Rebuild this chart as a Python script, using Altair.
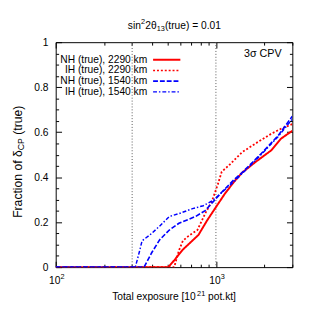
import altair as alt
import pandas as pd

FONT = "Liberation Sans"

# ---- data ----
series_names = ["NH (true), 2290 km", "IH (true), 2290 km", "NH (true), 1540 km", "IH (true), 1540 km"]
series_colors = ["#ff0000", "#ff0000", "#0000ff", "#0000ff"]
series_dash = [[1, 0], [2, 2], [5, 2], [4, 2, 1.5, 2]]
series_width = [2, 1.5, 2, 1.2]

exp_nh2290 = [100, 505, 549, 622, 778, 882, 986, 1134, 1303, 1457, 1771, 2215, 2546, 3000]
frac_nh2290 = [0, 0, 0.030, 0.078, 0.143, 0.208, 0.260, 0.325, 0.381, 0.420, 0.468, 0.519, 0.571, 0.606]

exp_ih2290 = [100, 549, 588, 622, 676, 767, 857, 945, 1028, 1087, 1216, 1457, 1771, 2215, 2546, 3000]
frac_ih2290 = [0, 0, 0.074, 0.117, 0.139, 0.165, 0.238, 0.294, 0.368, 0.424, 0.455, 0.511, 0.550, 0.593, 0.615, 0.636]

exp_nh1540 = [100, 356, 398, 445, 512, 588, 746, 857, 959, 1087, 1303, 1457, 1927, 2443, 3000]
frac_nh1540 = [0, 0, 0.065, 0.121, 0.165, 0.195, 0.225, 0.251, 0.290, 0.333, 0.390, 0.420, 0.506, 0.584, 0.671]

exp_ih1540 = [100, 314, 332, 346, 387, 445, 512, 588, 715, 834, 945, 1028, 1182, 1303, 1457, 1927, 2443, 3000]
frac_ih1540 = [0, 0, 0.065, 0.117, 0.143, 0.182, 0.225, 0.238, 0.260, 0.273, 0.294, 0.316, 0.355, 0.381, 0.416, 0.502, 0.580, 0.658]

ref_lines = [300, 1000]

x_major = [100, 1000]
x_major_base = ["10", "10"]
x_major_exp = ["2", "3"]
x_minor = [200, 300, 400, 500, 600, 700, 800, 900, 2000, 3000]
y_major = [0, 0.2, 0.4, 0.6, 0.8, 1.0]
y_minor = [0.05, 0.1, 0.15, 0.25, 0.3, 0.35, 0.45, 0.5, 0.55, 0.65, 0.7, 0.75, 0.85, 0.9, 0.95]

annot = "3σ CPV"

# ---- build tables ----
rows = []
for name, xs_, ys_ in zip(series_names,
                          [exp_nh2290, exp_ih2290, exp_nh1540, exp_ih1540],
                          [frac_nh2290, frac_ih2290, frac_nh1540, frac_ih1540]):
    for i, (a, b) in enumerate(zip(xs_, ys_)):
        rows.append({"series": name, "exposure": a, "fraction": b, "order": i})
df = pd.DataFrame(rows)
df_ref = pd.DataFrame({"exposure": ref_lines})
df_xlab = pd.DataFrame({"exposure": x_major, "base": x_major_base, "exp": x_major_exp})

xs = alt.Scale(type="log", domain=[100, 3000], nice=False)
ys = alt.Scale(domain=[0, 1], nice=False, zero=False)

common_axis = dict(domain=False, grid=False, tickColor="black", labelFont=FONT,
                   labelFontSize=10.5, labelColor="black", labelFlush=False,
                   labelOverlap=False, titleFont=FONT, titleFontSize=10.5,
                   titleColor="black", titleFontWeight="normal")

lines = alt.Chart(df).mark_line(clip=True).encode(
    x=alt.X("exposure:Q", scale=xs, axis=alt.Axis(
        orient="bottom", values=x_major, tickSize=6, offset=-6, labels=False,
        title=None, **common_axis)),
    y=alt.Y("fraction:Q", scale=ys, axis=alt.Axis(
        orient="left", values=y_major, tickSize=6, offset=-6, labelPadding=8,
        labelExpr="format(datum.value, '.1~f')", title=None, **common_axis)),
    color=alt.Color("series:N", scale=alt.Scale(domain=series_names, range=series_colors), legend=None),
    strokeDash=alt.StrokeDash("series:N", scale=alt.Scale(domain=series_names, range=series_dash), legend=None),
    strokeWidth=alt.StrokeWidth("series:N", scale=alt.Scale(domain=series_names, range=series_width), legend=None),
    order="order:Q",
)

rules = alt.Chart(df_ref).mark_rule(color="#555555", strokeDash=[1, 2], strokeWidth=1).encode(
    x=alt.X("exposure:Q", scale=xs, axis=None),
)

# x tick labels "10^n" with a raised exponent, placed through the x scale
xlab_base = alt.Chart(df_xlab).mark_text(align="center", baseline="alphabetic", font=FONT, fontSize=10.5,
                                         color="black", dx=-1).encode(
    x=alt.X("exposure:Q", scale=xs, axis=None), y=alt.value(248), text="base:N")
xlab_exp = alt.Chart(df_xlab).mark_text(align="left", baseline="alphabetic", font=FONT, fontSize=7.5,
                                        color="black", dx=5).encode(
    x=alt.X("exposure:Q", scale=xs, axis=None), y=alt.value(243), text="exp:N")


def axis_layer(xaxis, yaxis):
    return alt.Chart(df).mark_point(opacity=0).encode(
        x=alt.X("exposure:Q", scale=xs, axis=xaxis),
        y=alt.Y("fraction:Q", scale=ys, axis=yaxis),
    )


minor_bl = axis_layer(
    alt.Axis(orient="bottom", values=x_minor, tickSize=3, offset=-3, labels=False, title=None, **common_axis),
    alt.Axis(orient="left", values=y_minor, tickSize=3, offset=-3, labels=False, title=None, **common_axis))
major_tr = axis_layer(
    alt.Axis(orient="top", values=x_major, tickSize=6, offset=-6, labels=False, title=None, **common_axis),
    alt.Axis(orient="right", values=y_major, tickSize=6, offset=-6, labels=False, title=None, **common_axis))
minor_tr = axis_layer(
    alt.Axis(orient="top", values=x_minor, tickSize=3, offset=-3, labels=False, title=None, **common_axis),
    alt.Axis(orient="right", values=y_minor, tickSize=3, offset=-3, labels=False, title=None, **common_axis))

one = pd.DataFrame({"k": [0]})


def txt(s, x, y, size=10.5, align="left", angle=0, baseline="alphabetic"):
    kw = dict(align=align, baseline=baseline, font=FONT, fontSize=size, color="black")
    if angle:
        kw["angle"] = angle
    return alt.Chart(one).mark_text(**kw).encode(x=alt.value(x), y=alt.value(y), text=alt.value(s))


# legend (label, then line sample), drawn inside the plot
legend_layers = []
for i, name in enumerate(series_names):
    yy = 18 + i * 11
    legend_layers.append(txt(name, 94, yy, 10.5, align="right", baseline="middle"))
    legend_layers.append(
        alt.Chart(one).mark_rule(color=series_colors[i], strokeDash=series_dash[i],
                                 strokeWidth=series_width[i]).encode(
            x=alt.value(100), x2=alt.value(128), y=alt.value(yy)))

annot_layer = txt(annot, 232, 12, 11, align="right", baseline="middle")

# chart title: sin^2 2θ_13(true) = 0.01
t0 = 74
title_layers = [
    txt("sin", t0, -14),
    txt("2", t0 + 13.6, -18.5, 7.5),
    txt("2θ", t0 + 17.9, -14),
    txt("13", t0 + 29.8, -11, 7.5),
    txt("(true) = 0.01", t0 + 38.2, -14),
]

# x title: Total exposure [10^21 pot.kt]
x0 = 58
xtitle_layers = [
    txt("Total exposure [10", x0, 265),
    txt("21", x0 + 87.2, 260.5, 7.5),
    txt("pot.kt]", x0 + 98.5, 265),
]

# y title: Fraction of δ_CP (true)
yt_x = -39
yt_p = 111
ytitle = [
    txt("Fraction of δ", yt_x, yt_p, 12.5, align="right", angle=270, baseline="middle"),
    txt("CP", yt_x + 3, yt_p, 9, align="left", angle=270, baseline="middle"),
    txt("(true)", yt_x, yt_p - 16, 12.5, align="left", angle=270, baseline="middle"),
]

chart = alt.layer(rules, lines, minor_bl, major_tr, minor_tr, xlab_base, xlab_exp, annot_layer,
                  *legend_layers, *title_layers, *xtitle_layers, *ytitle).resolve_axis(
    x="independent", y="independent"
).properties(
    width=243, height=231,
    autosize=alt.AutoSizeParams(type="none"),
    padding={"left": 49, "top": 31, "right": 13, "bottom": 43},
).configure_view(stroke="black", strokeWidth=1)

chart.save("out.html", embed_options={"renderer": "svg", "actions": False})
